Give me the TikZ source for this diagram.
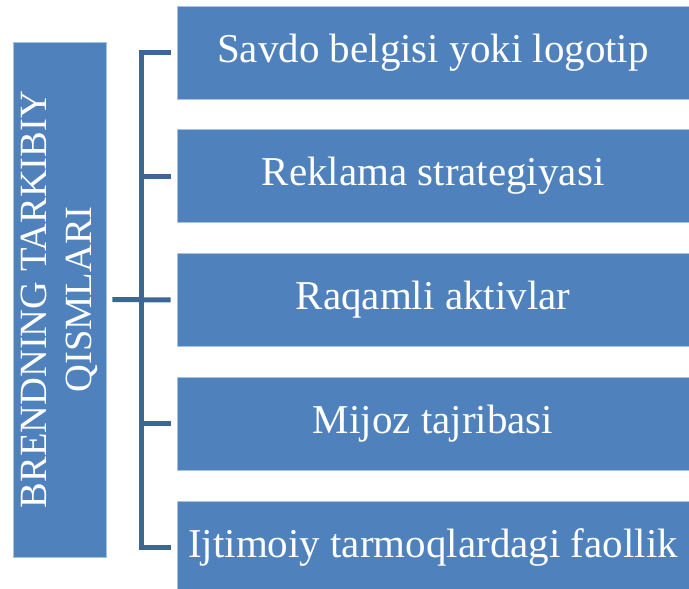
\documentclass[tikz,border=0pt]{standalone}
\usepackage{fontspec}
\setmainfont{Liberation Serif}
\definecolor{boxfill}{HTML}{4F81BD}
\definecolor{boxrim}{HTML}{A9C2E0}
\definecolor{linkblue}{HTML}{3D6698}
\tikzset{
  partbox/.style={rectangle, fill=boxfill, draw=boxrim, line width=0.8pt,
    minimum width=512pt, minimum height=93pt, inner sep=0pt,
    text=white, font=\fontsize{41}{48}\selectfont},
  titlebox/.style={rectangle, fill=boxfill, draw=boxrim, line width=0.8pt,
    minimum width=515pt, minimum height=93pt, inner sep=0pt, rotate=90,
    align=center, text=white, font=\fontsize{38.5}{45}\selectfont},
  link/.style={draw=linkblue, line width=5pt}
}
\begin{document}
\begin{tikzpicture}[x=1pt,y=-1pt]
		\useasboundingbox (0,0) rectangle (689,589);
		\clip (0,0) rectangle (689,589);

		\node[titlebox] (title) at (59.5,299.5) {BRENDNING TARKIBIY\\QISMLARI};

		\node[partbox] (logo) at (433,52.5) {Savdo belgisi yoki logotip};
		\node[partbox] (ads) at (433,176) {Reklama strategiyasi};
		\node[partbox] (digital) at (433,300) {Raqamli aktivlar};
		\node[partbox] (client) at (433,423.5) {Mijoz tajribasi};
		\node[partbox] (social) at (433,547.5) {Ijtimoiy tarmoqlardagi faollik};

		\coordinate (spine) at (141.5,299.5);
		\draw[link, shorten <=6pt, shorten >=6pt] (logo.west) -| (spine) |- (social.west);
		\draw[link, shorten >=6pt] (spine |- ads.west) -- (ads.west);
		\draw[link, shorten >=6pt] (spine |- client.west) -- (client.west);
		\draw[link, shorten <=6pt, shorten >=6pt] (title.south) -- (digital.west);
	\end{tikzpicture}
\end{document}
